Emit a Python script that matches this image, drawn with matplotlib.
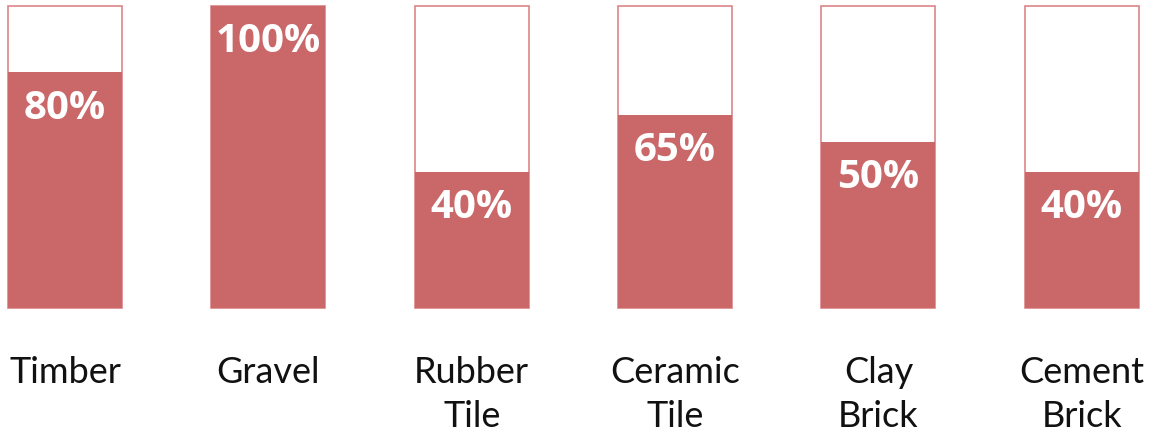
import matplotlib.pyplot as plt

# Materials and their fill levels plus the printed labels
materials = ["Timber", "Gravel", "Rubber\nTile", "Ceramic\nTile", "Clay\nBrick", "Cement\nBrick"]
fill_levels = [78, 100, 45, 64, 55, 45]
value_labels = ["80%", "100%", "40%", "65%", "50%", "40%"]
full_scale = [100] * len(materials)

fill_color = "#CA6869"
edge_color = "#DC8587"

fig = plt.figure(figsize=(11.57, 4.31), dpi=100)
ax = fig.add_axes([0, 0.2831, 1, 0.7007])

x = list(range(len(materials)))
width = 0.561

# Outline box (100%) and the filled part
ax.bar(x, full_scale, width=width, color="white", edgecolor=edge_color, linewidth=1.2, clip_on=False)
ax.bar(x, fill_levels, width=width, color=fill_color, linewidth=0, clip_on=False)

for xi, v, lab in zip(x, fill_levels, value_labels):
    ax.annotate(lab, (xi, v), xytext=(0, -25), textcoords="offset points",
                ha="center", va="center", color="white", fontsize=29,
                fontweight="bold", family="Open Sans")

ax.set_xlim(-0.32, 5.37)
ax.set_ylim(0, 100)
ax.set_xticks(x, materials)
ax.tick_params(axis="x", length=0, pad=34)
for t in ax.get_xticklabels():
    t.set_family("Lato")
    t.set_fontsize(26)
    t.set_color("#111111")
    t.set_linespacing(1.4)
ax.set_yticks([])
for s in ax.spines.values():
    s.set_visible(False)

fig.savefig("out.png", dpi=100)
